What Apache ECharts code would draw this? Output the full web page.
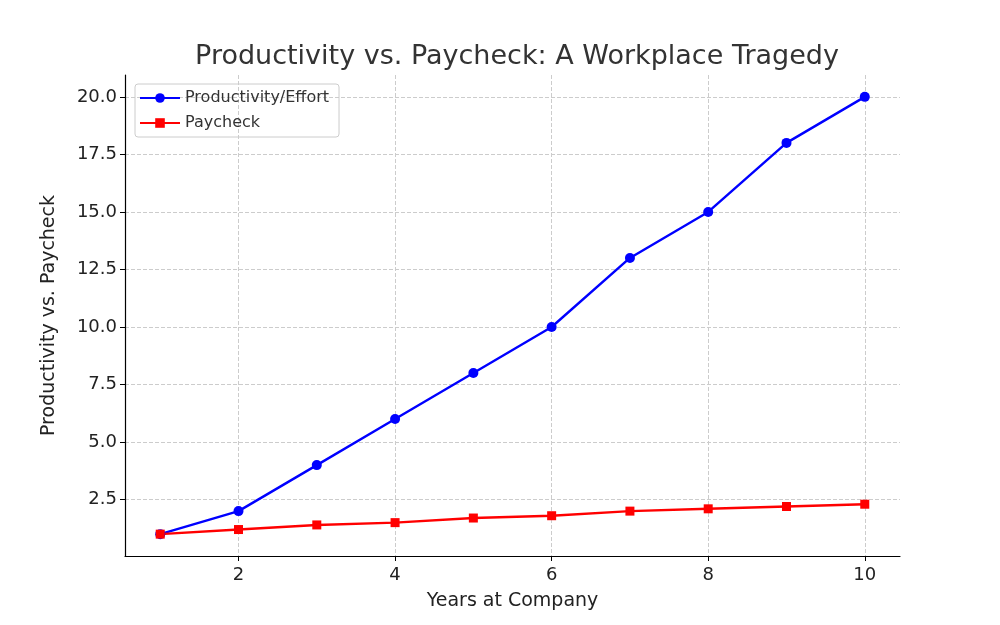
<!DOCTYPE html>
<html><head><meta charset="utf-8">
<script src="https://cdn.jsdelivr.net/npm/echarts@6/dist/echarts.min.js"></script>
<style>html,body{margin:0;background:#fff}#c{width:1000px;height:625px}</style>
</head><body><div id="c"></div>
<script>
const years = [1,2,3,4,5,6,7,8,9,10];
const productivity = [1,2,4,6,8,10,13,15,18,20];
const paycheck = [1,1.2,1.4,1.5,1.7,1.8,2.0,2.1,2.2,2.3];
const xTicks = [2,4,6,8,10];
const yTicks = [2.5,5,7.5,10,12.5,15,17.5,20];
const font = 'DejaVu Sans';
const chart = echarts.init(document.getElementById('c'));
const split = {show:true,lineStyle:{type:'dashed',color:'#cccccc',width:1}};
chart.setOption({
  animation:false,
  textStyle:{fontFamily:font},
  title:{text:'Productivity vs. Paycheck: A Workplace Tragedy',left:512,top:38,textAlign:'center',textStyle:{fontFamily:font,fontSize:27,fontWeight:'normal',color:'#333'}},
  grid:{left:125,right:100,top:75,bottom:69},
  legend:{left:135,top:84,orient:'vertical',itemGap:9,itemWidth:40,itemHeight:12,padding:[6,10,6,4],
    borderColor:'#ccc',borderWidth:1,borderRadius:3,
    textStyle:{fontFamily:font,fontSize:16,color:'#333'},
    data:['Productivity/Effort','Paycheck']},
  xAxis:{type:'value',min:0.55,max:10.45,name:'Years at Company',nameLocation:'middle',nameGap:36,
    nameTextStyle:{fontFamily:font,fontSize:19,color:'#222'},
    axisLine:{lineStyle:{color:'#000',width:1.2}},
    axisTick:{customValues:xTicks,length:5,lineStyle:{color:'#000'}},
    axisLabel:{customValues:xTicks,fontFamily:font,fontSize:18,color:'#222',margin:10},
    splitLine:split},
  yAxis:{type:'value',min:0.05,max:20.95,name:'Productivity vs. Paycheck',nameLocation:'middle',nameGap:66,
    nameTextStyle:{fontFamily:font,fontSize:19,color:'#222'},
    axisLine:{show:true,lineStyle:{color:'#000',width:1.2}},
    axisTick:{show:true,customValues:yTicks,length:5,lineStyle:{color:'#000'}},
    axisLabel:{customValues:yTicks,fontFamily:font,fontSize:18,color:'#222',formatter:v=>v.toFixed(1)},
    splitLine:split},
  series:[
    {name:'Productivity/Effort',type:'line',data:years.map((x,i)=>[x,productivity[i]]),
      symbol:'circle',symbolSize:10,itemStyle:{color:'#0000ff'},lineStyle:{color:'#0000ff',width:2.4}},
    {name:'Paycheck',type:'line',data:years.map((x,i)=>[x,paycheck[i]]),
      symbol:'rect',symbolSize:9,itemStyle:{color:'#ff0000'},lineStyle:{color:'#ff0000',width:2.4}}
  ]
});
</script></body></html>
